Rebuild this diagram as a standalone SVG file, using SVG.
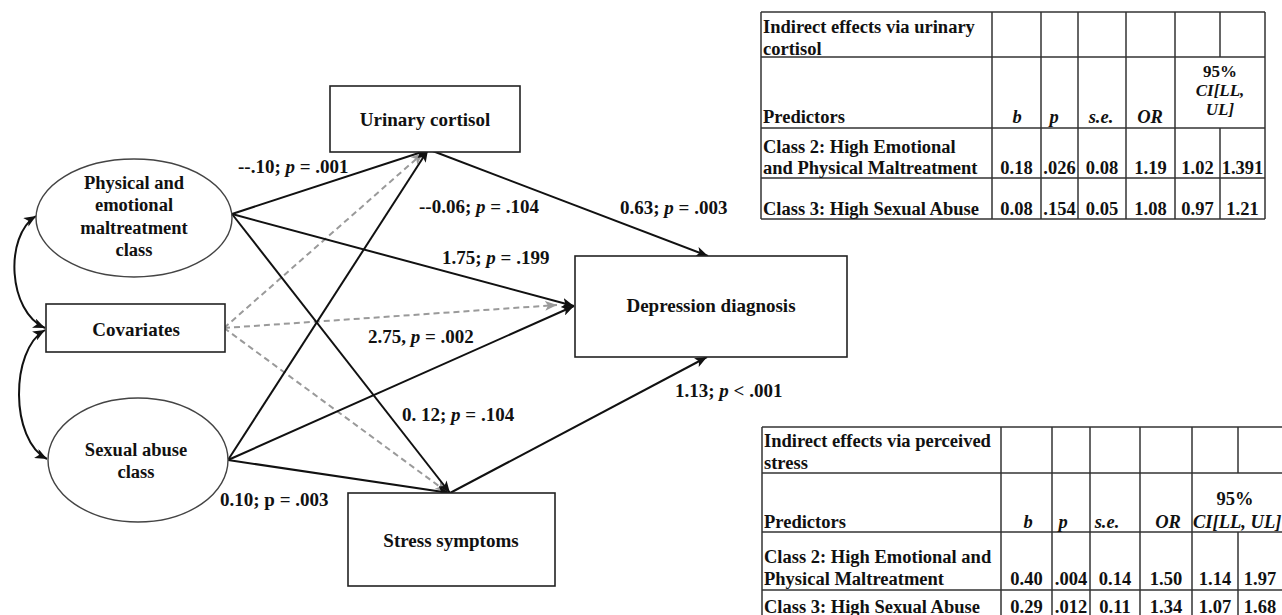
<svg xmlns="http://www.w3.org/2000/svg" width="1282" height="615" viewBox="0 0 1282 615">
<defs>
<style>
text{font-family:"Liberation Serif","Times New Roman",serif;font-weight:bold;fill:#111}
.n{font-size:19px}
.e{font-size:18.5px}
.l{font-size:19px}
.t{font-size:18.5px}
.s{font-size:17px}
.c{text-anchor:middle}
.i{font-style:italic}
.box{fill:#fff;stroke:#222;stroke-width:1.6}
.ell{fill:#fff;stroke:#444;stroke-width:1.4}
.ar{fill:none;stroke:#111;stroke-width:2;marker-end:url(#ah)}
.da{fill:none;stroke:#9a9a9a;stroke-width:2;stroke-dasharray:6 4;marker-end:url(#ag)}
.cv{fill:none;stroke:#111;stroke-width:2;marker-start:url(#ah2);marker-end:url(#ah2)}
.g line{stroke:#333;stroke-width:1.5}
</style>
<marker id="ah" viewBox="0 0 12 10" refX="12" refY="5" markerWidth="12" markerHeight="10" markerUnits="userSpaceOnUse" orient="auto"><path d="M0,0 L12,5 L0,10 L3,5 z" fill="#111"/></marker>
<marker id="ah2" viewBox="0 0 12 10" refX="12" refY="5" markerWidth="12" markerHeight="10" markerUnits="userSpaceOnUse" orient="auto-start-reverse"><path d="M0,0 L12,5 L0,10 L3,5 z" fill="#111"/></marker>
<marker id="ag" viewBox="0 0 12 10" refX="12" refY="5" markerWidth="12" markerHeight="10" markerUnits="userSpaceOnUse" orient="auto"><path d="M0,0 L12,5 L0,10 L3,5 z" fill="#9a9a9a"/></marker>
</defs>
<rect width="1282" height="615" fill="#fff"/>

<g id="connectors">
<path class="cv" d="M45,328 C8,312 4,236 36,216"/>
<path class="cv" d="M45,330 C10,350 10,440 47,459"/>
<line class="da" x1="224" y1="328" x2="423" y2="153"/>
<line class="da" x1="224" y1="328" x2="557" y2="305"/>
<line class="da" x1="224" y1="328" x2="447" y2="492"/>
<line class="ar" x1="232" y1="214" x2="428" y2="150"/>
<line class="ar" x1="232" y1="214" x2="574" y2="306"/>
<line class="ar" x1="232" y1="214" x2="450" y2="493"/>
<line class="ar" x1="228" y1="460" x2="428" y2="150"/>
<line class="ar" x1="228" y1="460" x2="574" y2="306"/>
<line class="ar" x1="228" y1="460" x2="450" y2="493"/>
<line class="ar" x1="430" y1="150" x2="708" y2="256"/>
<line class="ar" x1="450" y1="493" x2="707" y2="357"/>
</g>

<g id="edge-labels">
<text class="l" x="238" y="173">--.10; <tspan class="i">p</tspan> = .001</text>
<text class="l" x="419" y="213">--0.06; <tspan class="i">p</tspan> = .104</text>
<text class="l" x="620" y="214">0.63; <tspan class="i">p</tspan> = .003</text>
<text class="l" x="442" y="264">1.75; <tspan class="i">p</tspan> = .199</text>
<text class="l" x="368" y="343">2.75, <tspan class="i">p</tspan> = .002</text>
<text class="l" x="675" y="397">1.13; <tspan class="i">p</tspan> &lt; .001</text>
<text class="l" x="402" y="421">0. 12; <tspan class="i">p</tspan> = .104</text>
<text class="l" x="220" y="506">0.10; p = .003</text>
</g>

<g id="physical-emotional">
<ellipse class="ell" cx="134" cy="218" rx="98" ry="59"/>
<text class="e c" x="134" y="189">Physical and</text>
<text class="e c" x="134" y="211">emotional</text>
<text class="e c" x="134" y="234">maltreatment</text>
<text class="e c" x="134" y="256">class</text>
</g>

<g id="covariates">
<rect class="box" x="46" y="304" width="179" height="48"/>
<text class="n c" x="136" y="336">Covariates</text>
</g>

<g id="sexual-abuse">
<ellipse class="ell" cx="138" cy="460" rx="90" ry="62"/>
<text class="e c" x="136" y="456">Sexual abuse</text>
<text class="e c" x="136" y="478">class</text>
</g>

<g id="urinary-cortisol">
<rect class="box" x="330" y="86" width="190" height="66"/>
<text class="n c" x="425" y="126">Urinary cortisol</text>
</g>

<g id="depression">
<rect class="box" x="575" y="256" width="272" height="101"/>
<text class="n c" x="711" y="312">Depression diagnosis</text>
</g>

<g id="stress">
<rect class="box" x="348" y="493" width="207" height="93"/>
<text class="n c" x="451" y="547">Stress symptoms</text>
</g>

<g id="table-cortisol">
<rect x="761" y="12" width="504" height="207" fill="#fff"/>
<g class="g">
<line x1="761" y1="12" x2="1265" y2="12"/>
<line x1="761" y1="57" x2="1265" y2="57"/>
<line x1="761" y1="128" x2="1265" y2="128"/>
<line x1="761" y1="178" x2="1265" y2="178"/>
<line x1="761" y1="219" x2="1265" y2="219"/>
<line x1="761" y1="12" x2="761" y2="219"/>
<line x1="992" y1="12" x2="992" y2="219"/>
<line x1="1041" y1="12" x2="1041" y2="219"/>
<line x1="1078" y1="12" x2="1078" y2="219"/>
<line x1="1126" y1="12" x2="1126" y2="219"/>
<line x1="1175" y1="12" x2="1175" y2="219"/>
<line x1="1220" y1="12" x2="1220" y2="57"/>
<line x1="1220" y1="128" x2="1220" y2="219"/>
<line x1="1265" y1="12" x2="1265" y2="219"/>
</g>
<text class="t" x="763" y="33">Indirect effects via urinary</text>
<text class="t" x="763" y="55">cortisol</text>
<text class="t" x="763" y="123">Predictors</text>
<text class="t c i" x="1017" y="123">b</text>
<text class="t c i" x="1054" y="123">p</text>
<text class="t c i" x="1101" y="123">s.e.</text>
<text class="t c i" x="1150" y="123">OR</text>
<text class="s c" x="1220" y="77">95%</text>
<text class="s c i" x="1220" y="96">CI[LL,</text>
<text class="s c i" x="1220" y="115">UL]</text>
<text class="t" x="763" y="153">Class 2: High Emotional</text>
<text class="t" x="763" y="174">and Physical Maltreatment</text>
<text class="t c" x="1016.5" y="174">0.18</text>
<text class="t c" x="1059.5" y="174">.026</text>
<text class="t c" x="1102" y="174">0.08</text>
<text class="t c" x="1150.5" y="174">1.19</text>
<text class="t c" x="1197.5" y="174">1.02</text>
<text class="t c" x="1242.5" y="174">1.391</text>
<text class="t" x="763" y="215">Class 3: High Sexual Abuse</text>
<text class="t c" x="1016.5" y="215">0.08</text>
<text class="t c" x="1059.5" y="215">.154</text>
<text class="t c" x="1102" y="215">0.05</text>
<text class="t c" x="1150.5" y="215">1.08</text>
<text class="t c" x="1197.5" y="215">0.97</text>
<text class="t c" x="1242.5" y="215">1.21</text>
</g>

<g id="table-stress">
<g class="g">
<line x1="762" y1="427" x2="1282" y2="427"/>
<line x1="762" y1="473" x2="1282" y2="473"/>
<line x1="762" y1="532" x2="1282" y2="532"/>
<line x1="762" y1="590" x2="1282" y2="590"/>
<line x1="762" y1="427" x2="762" y2="615"/>
<line x1="1001" y1="427" x2="1001" y2="615"/>
<line x1="1052" y1="427" x2="1052" y2="615"/>
<line x1="1090" y1="427" x2="1090" y2="615"/>
<line x1="1140" y1="427" x2="1140" y2="615"/>
<line x1="1192" y1="427" x2="1192" y2="615"/>
<line x1="1238" y1="427" x2="1238" y2="473"/>
<line x1="1238" y1="532" x2="1238" y2="615"/>
</g>
<text class="t" x="764" y="447">Indirect effects via perceived</text>
<text class="t" x="764" y="469">stress</text>
<text class="t" x="764" y="528">Predictors</text>
<text class="t c i" x="1028" y="528">b</text>
<text class="t c i" x="1063" y="528">p</text>
<text class="t c i" x="1107" y="528">s.e.</text>
<text class="t c i" x="1168" y="528">OR</text>
<text class="t c" x="1235" y="505">95%</text>
<text class="t i" x="1193" y="528">CI[LL, UL]</text>
<text class="t" x="764" y="563">Class 2: High Emotional and</text>
<text class="t" x="764" y="584.5">Physical Maltreatment</text>
<text class="t c" x="1026.5" y="584.5">0.40</text>
<text class="t c" x="1071" y="584.5">.004</text>
<text class="t c" x="1115" y="584.5">0.14</text>
<text class="t c" x="1166" y="584.5">1.50</text>
<text class="t c" x="1215" y="584.5">1.14</text>
<text class="t c" x="1260" y="584.5">1.97</text>
<text class="t" x="764" y="613">Class 3: High Sexual Abuse</text>
<text class="t c" x="1026.5" y="613">0.29</text>
<text class="t c" x="1071" y="613">.012</text>
<text class="t c" x="1115" y="613">0.11</text>
<text class="t c" x="1166" y="613">1.34</text>
<text class="t c" x="1215" y="613">1.07</text>
<text class="t c" x="1260" y="613">1.68</text>
</g>
</svg>
